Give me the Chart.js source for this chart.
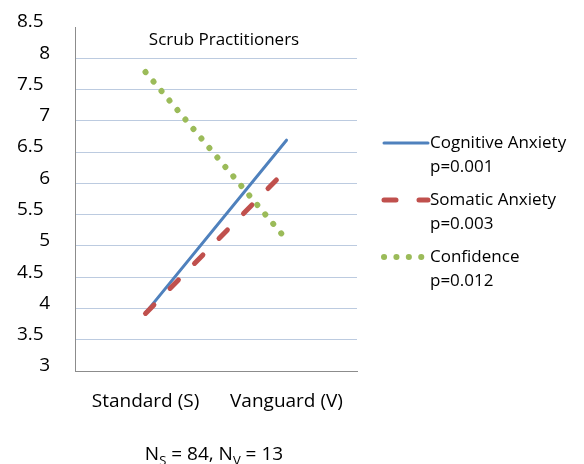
<!DOCTYPE html>
<html>
<head>
<meta charset="utf-8">
<title>Scrub Practitioners</title>
<style>
  html, body { margin: 0; padding: 0; background: #fff; }
</style>
</head>
<body>
<script src="https://cdn.jsdelivr.net/npm/chart.js@4.4.0/dist/chart.umd.min.js"></script>
<canvas id="myChart" width="584" height="464"></canvas>
<script>
  // group means, Standard vs Vanguard
  var groups = ['Standard (S)', 'Vanguard (V)'];
  var cognitiveAnxiety = [3.93, 6.69];
  var somaticAnxiety = [3.92, 6.22];
  var confidence = [7.78, 5.1];

  var seriesNames = ['Cognitive Anxiety', 'Somatic Anxiety', 'Confidence'];
  var pValues = ['p=0.001', 'p=0.003', 'p=0.012'];
  var sampleSizes = [84, 13];

  var chartTitle = 'Scrub Practitioners';
  var yMin = 3, yMax = 8.5, yStep = 0.5;

  var FONT = '"Open Sans", sans-serif';
  Chart.defaults.font.family = FONT;

  // title, legend and sample size note
  var extras = {
    id: 'extras',
    afterDraw: function(chart) {
      var ctx = chart.ctx;
      var area = chart.chartArea;
      ctx.save();

      ctx.fillStyle = '#000';
      ctx.font = '17px ' + FONT;
      ctx.textAlign = 'center';
      ctx.textBaseline = 'middle';
      ctx.fillText(chartTitle, 224, 40);

      // legend on the right
      var lx = area.right + 25;
      chart.data.datasets.forEach(function(ds, i) {
        var y = 143 + i * 57;
        ctx.beginPath();
        ctx.strokeStyle = ds.borderColor;
        ctx.lineWidth = ds.borderWidth;
        ctx.lineCap = ds.borderCapStyle || 'butt';
        ctx.setLineDash(ds.borderDash || []);
        ctx.moveTo(lx + 2, y);
        ctx.lineTo(lx + 46, y);
        ctx.stroke();
        ctx.setLineDash([]);

        ctx.fillStyle = '#000';
        ctx.font = '17px ' + FONT;
        ctx.textAlign = 'left';
        ctx.textBaseline = 'middle';
        ctx.fillText(ds.label, lx + 48, y);
        ctx.fillText(pValues[i], lx + 48, y + 24);
      });

      // N_S = 84, N_V = 13
      var parts = [
        ['N', false], ['S', true], [' = ' + sampleSizes[0] + ', N', false],
        ['V', true], [' = ' + sampleSizes[1], false]
      ];
      var big = '19px ' + FONT, small = '13px ' + FONT;
      var total = 0;
      parts.forEach(function(p) {
        ctx.font = p[1] ? small : big;
        total += ctx.measureText(p[0]).width;
      });
      var x = 214 - total / 2;
      ctx.textAlign = 'left';
      ctx.textBaseline = 'alphabetic';
      parts.forEach(function(p) {
        ctx.font = p[1] ? small : big;
        ctx.fillText(p[0], x, p[1] ? 465 : 460);
        x += ctx.measureText(p[0]).width;
      });
      ctx.restore();
    }
  };

  var ctx = document.getElementById('myChart');
  var myChart = new Chart(ctx, {
    type: 'line',
    data: {
      labels: groups,
      datasets: [
        {
          label: seriesNames[0],
          data: cognitiveAnxiety,
          borderColor: '#4f81bd',
          borderWidth: 3,
          borderCapStyle: 'round',
          pointRadius: 0,
          order: 3
        },
        {
          label: seriesNames[1],
          data: somaticAnxiety,
          borderColor: '#c0504d',
          borderWidth: 5,
          borderCapStyle: 'round',
          borderDash: [12, 23],
          pointRadius: 0,
          order: 2
        },
        {
          label: seriesNames[2],
          data: confidence,
          borderColor: '#9bbb59',
          borderWidth: 6,
          borderCapStyle: 'round',
          borderDash: [0.1, 12.3],
          pointRadius: 0,
          order: 1
        }
      ]
    },
    options: {
      responsive: false,
      animation: false,
      devicePixelRatio: 1,
      layout: { padding: { top: 27, right: 227, left: 0, bottom: 0 } },
      plugins: {
        legend: { display: false },
        tooltip: { enabled: false }
      },
      scales: {
        x: {
          offset: true,
          grid: { display: false },
          border: { color: '#8c8c8c', width: 1 },
          ticks: { color: '#000', font: { size: 19 }, padding: 11 },
          afterFit: function(scale) { scale.height = 93; }
        },
        y: {
          min: yMin,
          max: yMax,
          ticks: {
            stepSize: yStep,
            color: '#000',
            font: { size: 19 },
            padding: 25,
            labelOffset: -5,
            callback: function(v) {
              return Number.isInteger(v) ? String(v) : v + '\u2009\u2009';
            }
          },
          grid: {
            drawTicks: false,
            color: function(c) {
              return c.tick && c.tick.value === yMax ? 'rgba(0,0,0,0)' : '#bccbe0';
            }
          },
          border: { color: '#8c8c8c', width: 1 },
          afterFit: function(scale) {
            scale.width = 75;
            // tick padding would otherwise push the plot top down
            scale.paddingTop = 0;
            scale.paddingBottom = 0;
          }
        }
      }
    },
    plugins: [extras]
  });
</script>
</body>
</html>
